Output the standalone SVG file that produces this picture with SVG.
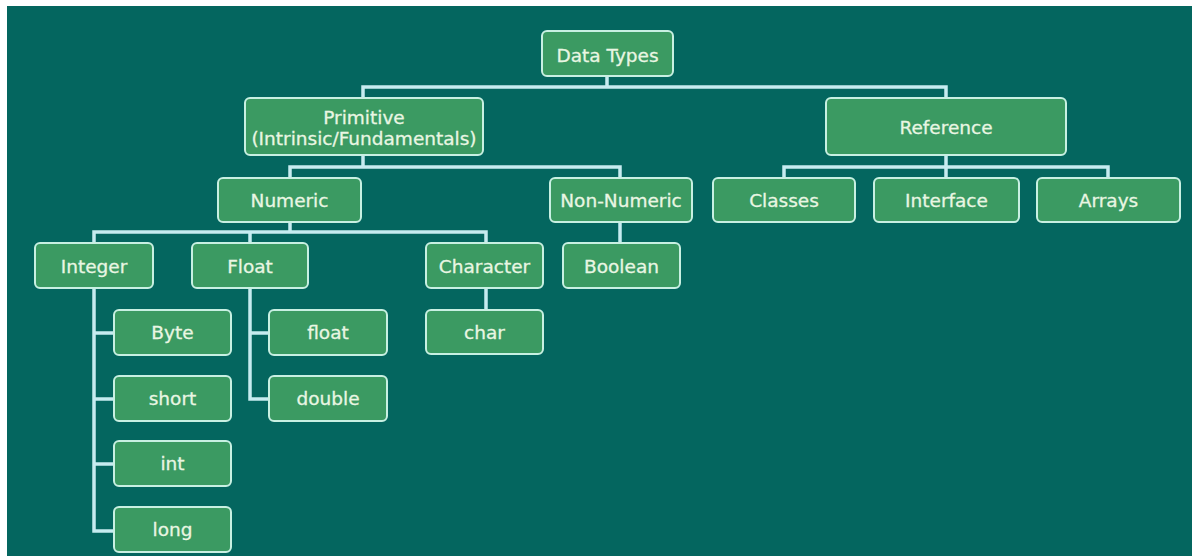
<svg xmlns="http://www.w3.org/2000/svg" width="1192" height="556" viewBox="0 0 1192 556">
<style>
.bg{fill:#04665f}
.box{fill:#3b9a62;stroke:#c8f0e2;stroke-width:2}
.lbl{font-family:"DejaVu Sans","Verdana",sans-serif;font-size:18.5px;fill:#e9f6e2;stroke:#e9f6e2;stroke-width:0.3;text-anchor:middle}
.conn{fill:none;stroke:#c6ecf0;stroke-width:3.5;stroke-linejoin:miter}
</style>
<rect x="0" y="0" width="1192" height="556" fill="#ffffff"/>
<rect class="bg" x="7" y="6" width="1185" height="550"/>
<g id="connectors">
<path class="conn" d="M607,76 V87 M363,98 V87 H946 V98"/>
<path class="conn" d="M363,155 V167 M290,178 V167 H620 V178"/>
<path class="conn" d="M946,155 V178 M784,178 V167 H1108 V178"/>
<path class="conn" d="M290,222 V232 M94,243 V232 H486 V243 M250,232 V243"/>
<path class="conn" d="M620,222 V243"/>
<path class="conn" d="M486,288 V310"/>
<path class="conn" d="M94,288 V531 H114 M94,333 H114 M94,399 H114 M94,464 H114"/>
<path class="conn" d="M250,288 V399 H269 M250,333 H269"/>
</g>
<g id="n-datatypes"><rect class="box" x="542" y="31" width="131" height="45" rx="5"/><text class="lbl" x="607.5" y="62">Data Types</text></g>
<g id="n-primitive"><rect class="box" x="245" y="98" width="238" height="57" rx="5"/><text class="lbl" x="364" y="124">Primitive</text><text class="lbl" x="364" y="145">(Intrinsic/Fundamentals)</text></g>
<g id="n-reference"><rect class="box" x="826" y="98" width="240" height="57" rx="5"/><text class="lbl" x="946" y="134">Reference</text></g>
<g id="n-numeric"><rect class="box" x="218" y="178" width="143" height="44" rx="5"/><text class="lbl" x="289.5" y="207">Numeric</text></g>
<g id="n-nonnumeric"><rect class="box" x="550" y="178" width="142" height="44" rx="5"/><text class="lbl" x="621" y="207">Non-Numeric</text></g>
<g id="n-classes"><rect class="box" x="713" y="178" width="142" height="44" rx="5"/><text class="lbl" x="784" y="207">Classes</text></g>
<g id="n-interface"><rect class="box" x="874" y="178" width="145" height="44" rx="5"/><text class="lbl" x="946.5" y="207">Interface</text></g>
<g id="n-arrays"><rect class="box" x="1037" y="178" width="143" height="44" rx="5"/><text class="lbl" x="1108.5" y="207">Arrays</text></g>
<g id="n-integer"><rect class="box" x="35" y="243" width="118" height="45" rx="5"/><text class="lbl" x="94" y="273">Integer</text></g>
<g id="n-float"><rect class="box" x="192" y="243" width="116" height="45" rx="5"/><text class="lbl" x="250" y="273">Float</text></g>
<g id="n-character"><rect class="box" x="426" y="243" width="117" height="45" rx="5"/><text class="lbl" x="484.5" y="273">Character</text></g>
<g id="n-boolean"><rect class="box" x="563" y="243" width="117" height="45" rx="5"/><text class="lbl" x="621.5" y="273">Boolean</text></g>
<g id="n-char"><rect class="box" x="426" y="310" width="117" height="44" rx="5"/><text class="lbl" x="484.5" y="339">char</text></g>
<g id="n-byte"><rect class="box" x="114" y="310" width="117" height="45" rx="5"/><text class="lbl" x="172.5" y="339">Byte</text></g>
<g id="n-short"><rect class="box" x="114" y="376" width="117" height="45" rx="5"/><text class="lbl" x="172.5" y="405">short</text></g>
<g id="n-int"><rect class="box" x="114" y="441" width="117" height="45" rx="5"/><text class="lbl" x="172.5" y="470">int</text></g>
<g id="n-long"><rect class="box" x="114" y="507" width="117" height="45" rx="5"/><text class="lbl" x="172.5" y="536">long</text></g>
<g id="n-float2"><rect class="box" x="269" y="310" width="118" height="45" rx="5"/><text class="lbl" x="328" y="339">float</text></g>
<g id="n-double"><rect class="box" x="269" y="376" width="118" height="45" rx="5"/><text class="lbl" x="328" y="405">double</text></g>
</svg>
